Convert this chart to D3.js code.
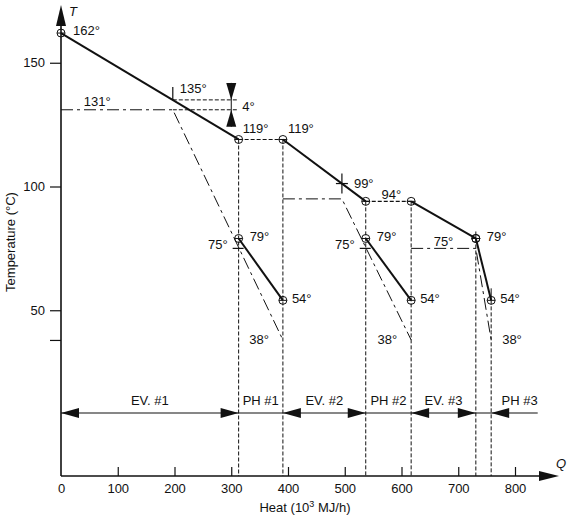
<!DOCTYPE html>
<html>
<head>
<meta charset="utf-8">
<script src="https://cdn.jsdelivr.net/npm/d3@7"></script>
<style>
  body { margin: 0; background: #fff; }
  svg text { font-family: "Liberation Sans", Arial, sans-serif; font-size: 13px; fill: #111; }
</style>
</head>
<body>
<svg id="chart" width="568" height="517"></svg>
<script>
// axis ticks: heat in 10^3 MJ/h, temperature in °C (38 is an unlabelled tick)
const qTicks = [0, 100, 200, 300, 400, 500, 600, 700, 800];
const tTicks = [150, 100, 50, 38];

// section boundaries along Q and the sections of the bottom row
const boundQ = [0, 313, 391, 537, 617, 731, 758];
const sectionNames = ["EV. #1", "PH #1", "EV. #2", "PH #2", "EV. #3", "PH #3"];
const sectionStartQ = [0, 313, 391, 537, 617, 758];
const sectionEndQ = [313, 391, 537, 617, 731, 840];

// heating steam / vapour through each effect (solid)
const evQ = [[0, 313], [391, 537], [617, 731]];
const evT = [[162, 119], [119, 94], [94, 79]];
// vapour carried over the preheaters (dashed)
const flashQ = [[313, 391], [537, 617]];
const flashT = [119, 94];
// juice preheaters (solid)
const phQ = [[313, 391], [537, 617], [731, 758]];
const phT = [79, 54];
// juice side (dash-dot)
const juiceQ = [[0, 197, 391], [391, 495, 617], [617, 731, 758]];
const juiceT = [[131, 131, 38], [95, 95, 38], [75, 75, 38]];
// approach marks in the first effect
const approachT = [135, 131];
const approachQ = [197, 310];
const approachArrowQ = 300;
const crossT = 99;
const phMarkT = 75;

const svg = d3.select("#chart");
const x = d3.scaleLinear().domain([0, 800]).range([61, 515]);
const y = d3.scaleLinear().domain([40, 160]).range([335, 38]);
const axisY = 476;
const rowY = 413;
const ink = "#111";

const line = d3.line().x(d => x(d[0])).y(d => y(d[1]));

// ---- axes ----
const yAxis = svg.append("g")
  .attr("transform", `translate(${x(0)},0)`)
  .call(d3.axisLeft(y).tickValues(tTicks).tickSize(11).tickPadding(5)
    .tickFormat(d => d === 38 ? "" : d));
yAxis.select(".domain").remove();
yAxis.selectAll("line").attr("stroke", ink).attr("stroke-width", 1.2);
yAxis.selectAll("text").attr("font-size", 13).attr("font-family", null);

const xAxis = svg.append("g")
  .attr("transform", `translate(0,${axisY})`)
  .call(d3.axisBottom(x).tickValues(qTicks).tickSizeInner(-9).tickSizeOuter(0).tickPadding(8));
xAxis.select(".domain").remove();
xAxis.selectAll("line").attr("stroke", ink).attr("stroke-width", 1.2);
xAxis.selectAll("text").attr("font-size", 13).attr("font-family", null);
xAxis.selectAll(".tick").filter(d => d === 0).select("line").remove();

// axis lines with arrow heads
svg.append("line").attr("x1", x(0)).attr("x2", x(0)).attr("y1", axisY).attr("y2", 20)
  .attr("stroke", ink).attr("stroke-width", 1.6);
svg.append("line").attr("x1", x(0)).attr("x2", 545).attr("y1", axisY).attr("y2", axisY)
  .attr("stroke", ink).attr("stroke-width", 1.6);
svg.append("path").attr("d", `M${x(0)},5 L${x(0) - 5},26 L${x(0) + 5},26 Z`).attr("fill", ink);
svg.append("path").attr("d", `M559,${axisY} L539,${axisY - 5} L539,${axisY + 5} Z`).attr("fill", ink);

svg.append("text").attr("x", x(0) + 8).attr("y", 16).attr("font-style", "italic").text("T");
svg.append("text").attr("x", 556).attr("y", 468).attr("font-style", "italic").text("Q");

svg.append("text")
  .attr("transform", "translate(15,242) rotate(-90)")
  .attr("text-anchor", "middle")
  .text("Temperature (°C)");

const xt = svg.append("text").attr("x", 305).attr("y", 512).attr("text-anchor", "middle");
xt.append("tspan").text("Heat (10");
xt.append("tspan").attr("font-size", 9).attr("dy", -5).text("3");
xt.append("tspan").attr("dy", 5).text(" MJ/h)");

// ---- vertical dashed boundaries ----
const pts = [];
evQ.forEach((q, i) => { pts.push([q[0], evT[i][0]]); pts.push([q[1], evT[i][1]]); });
phQ.forEach(q => { pts.push([q[0], phT[0]]); pts.push([q[1], phT[1]]); });

boundQ.slice(1).forEach(q => {
  const top = d3.max(pts.filter(p => p[0] === q), p => p[1]);
  svg.append("line")
    .attr("x1", x(q)).attr("x2", x(q))
    .attr("y1", y(top)).attr("y2", axisY)
    .attr("stroke", ink).attr("stroke-width", 1).attr("stroke-dasharray", "4,2");
});

// ---- dash-dot juice lines ----
juiceQ.forEach((qs, i) => {
  svg.append("path")
    .attr("d", line(qs.map((q, j) => [q, juiceT[i][j]])))
    .attr("fill", "none").attr("stroke", ink).attr("stroke-width", 1)
    .attr("stroke-dasharray", "12,4,3,4");
});

// ---- dashed flash lines ----
flashQ.forEach((qs, i) => {
  svg.append("path")
    .attr("d", line(qs.map(q => [q, flashT[i]])))
    .attr("fill", "none").attr("stroke", ink).attr("stroke-width", 1.2)
    .attr("stroke-dasharray", "4,2");
});

// ---- solid lines ----
evQ.forEach((qs, i) => {
  svg.append("path")
    .attr("d", line(qs.map((q, j) => [q, evT[i][j]])))
    .attr("fill", "none").attr("stroke", ink).attr("stroke-width", 2);
});
phQ.forEach(qs => {
  svg.append("path")
    .attr("d", line(qs.map((q, j) => [q, phT[j]])))
    .attr("fill", "none").attr("stroke", ink).attr("stroke-width", 2);
});

// ---- circles ----
const circ = svg.append("g").selectAll("g").data(pts).enter().append("g")
  .attr("transform", d => `translate(${x(d[0])},${y(d[1])})`);
circ.append("circle").attr("r", 4).attr("fill", "none").attr("stroke", ink).attr("stroke-width", 1);
circ.append("line").attr("x1", -4).attr("x2", 4).attr("stroke", ink).attr("stroke-width", 1);

// ---- approach marks, first effect ----
approachT.forEach((t, i) => {
  svg.append("line")
    .attr("x1", x(approachQ[0])).attr("x2", x(approachQ[1]))
    .attr("y1", y(t)).attr("y2", y(t))
    .attr("stroke", ink).attr("stroke-width", 1).attr("stroke-dasharray", "4,2");
});
svg.append("line")
  .attr("x1", x(approachQ[0])).attr("x2", x(approachQ[0]))
  .attr("y1", y(approachT[0]) - 13).attr("y2", y(approachT[0]))
  .attr("stroke", ink).attr("stroke-width", 1.2);
const ax = x(approachArrowQ);
svg.append("line").attr("x1", ax).attr("x2", ax)
  .attr("y1", y(approachT[0]) - 17).attr("y2", y(approachT[1]) + 17)
  .attr("stroke", ink).attr("stroke-width", 1);
svg.append("path")
  .attr("d", `M${ax},${y(approachT[0])} L${ax - 5},${y(approachT[0]) - 17} L${ax + 5},${y(approachT[0]) - 17} Z`)
  .attr("fill", ink);
svg.append("path")
  .attr("d", `M${ax},${y(approachT[1])} L${ax - 5},${y(approachT[1]) + 17} L${ax + 5},${y(approachT[1]) + 17} Z`)
  .attr("fill", ink);

// cross on the second effect line
const cq = juiceQ[1][1];
const ct = evT[1][0] + (evT[1][1] - evT[1][0]) * (cq - evQ[1][0]) / (evQ[1][1] - evQ[1][0]);
svg.append("line").attr("x1", x(cq)).attr("x2", x(cq)).attr("y1", y(ct) - 10).attr("y2", y(ct) + 10)
  .attr("stroke", ink).attr("stroke-width", 1.2);
svg.append("line").attr("x1", x(cq) - 6).attr("x2", x(cq) + 6).attr("y1", y(ct)).attr("y2", y(ct))
  .attr("stroke", ink).attr("stroke-width", 1.2);

// 75° ticks at the preheater inlets
[phQ[0][0], phQ[1][0]].forEach(q => {
  svg.append("line").attr("x1", x(q) - 6).attr("x2", x(q) + 5).attr("y1", y(phMarkT)).attr("y2", y(phMarkT))
    .attr("stroke", ink).attr("stroke-width", 1.2);
});
// small ticks in the last effect
svg.append("line").attr("x1", x(evQ[2][1])).attr("x2", x(evQ[2][1]))
  .attr("y1", y(evT[2][1]) - 7).attr("y2", y(evT[2][1])).attr("stroke", ink).attr("stroke-width", 1);
svg.append("line").attr("x1", x(phQ[2][1])).attr("x2", x(phQ[2][1]))
  .attr("y1", y(phT[1]) - 12).attr("y2", y(phT[1])).attr("stroke", ink).attr("stroke-width", 1);

// ---- temperature labels ----
const deg = t => t + "°";
function label(px, py, txt, anchor) {
  svg.append("text").attr("x", px).attr("y", py).attr("text-anchor", anchor || "start").text(txt);
}
label(x(evQ[0][0]) + 12, y(evT[0][0]) + 2, deg(evT[0][0]));
label(x(approachQ[0]) + 7, y(approachT[0]) - 7, deg(approachT[0]));
label(x(40), y(juiceT[0][0]) - 4, deg(juiceT[0][0]));
label(ax + 11, y(approachT[1]) + 1, deg(approachT[0] - approachT[1]));
label(x(evQ[0][1]) + 4, y(evT[0][1]) - 6, deg(evT[0][1]));
label(x(evQ[1][0]) + 5, y(evT[1][0]) - 6, deg(evT[1][0]));
label(x(cq) + 12, y(ct) + 4, deg(crossT));
label((x(flashQ[1][0]) + x(flashQ[1][1])) / 2 + 3, y(flashT[1]) - 2, deg(flashT[1]), "middle");
label((x(juiceQ[2][0]) + x(juiceQ[2][1])) / 2, y(juiceT[2][1]) - 2, deg(juiceT[2][1]), "middle");

phQ.forEach((qs, i) => {
  label(x(qs[0]) + 11, y(phT[0]) + 3, deg(phT[0]));
  label(x(qs[1]) + 9, y(phT[1]) + 3, deg(phT[1]));
  const end = juiceQ[i][2];
  if (i < 2) {
    label(x(qs[0]) - 11, y(phMarkT) + 1, deg(phMarkT), "end");
    label(x(end) - 14, y(38) + 4, deg(38), "end");
  } else {
    label(x(end) + 11, y(38) + 4, deg(38));
  }
});

// ---- section arrows row ----
svg.append("line").attr("x1", x(0)).attr("x2", x(d3.max(sectionEndQ))).attr("y1", rowY).attr("y2", rowY)
  .attr("stroke", ink).attr("stroke-width", 1.2);

function head(q, dir) {
  const px = x(q);
  svg.append("path")
    .attr("d", `M${px},${rowY} L${px + dir * 18},${rowY - 5} L${px + dir * 18},${rowY + 5} Z`)
    .attr("fill", ink);
}
sectionNames.forEach((name, i) => {
  const q0 = sectionStartQ[i], q1 = sectionEndQ[i];
  const last = i === sectionNames.length - 1;
  if (name.startsWith("EV")) { head(q0, 1); head(q1, -1); }
  if (last) head(q0, 1);
  label(last ? x(q1) : (x(q0) + x(q1)) / 2, rowY - 8, name, last ? "end" : "middle");
});
</script>
</body>
</html>
